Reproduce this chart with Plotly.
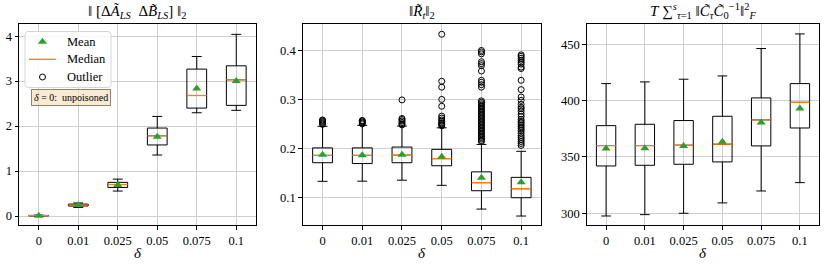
import math
import plotly.graph_objects as go

# ---------------- data ----------------
delta_labels = ["0", "0.01", "0.025", "0.05", "0.075", "0.1"]
positions = [1, 2, 3, 4, 5, 6]

# Panel 1: || [dA_LS dB_LS] ||_2
p1_q1 = [0.003, 0.222, 0.635, 1.580, 2.400, 2.460]
p1_med = [0.008, 0.245, 0.700, 1.785, 2.680, 3.030]
p1_q3 = [0.013, 0.265, 0.748, 1.956, 3.267, 3.340]
p1_lo = [0.000, 0.190, 0.555, 1.356, 2.296, 2.350]
p1_hi = [0.020, 0.290, 0.820, 2.215, 3.548, 4.040]
p1_mean = [0.008, 0.245, 0.690, 1.760, 2.837, 3.000]

# Panel 2: ||R_t||_2
p2_q1 = [0.1707, 0.1690, 0.1707, 0.1645, 0.1135, 0.0992]
p2_med = [0.1857, 0.1857, 0.1860, 0.1790, 0.1300, 0.1176]
p2_q3 = [0.2010, 0.2010, 0.2027, 0.1980, 0.1520, 0.1408]
p2_lo = [0.1327, 0.1330, 0.1350, 0.1245, 0.0760, 0.0618]
p2_hi = [0.2450, 0.2470, 0.2455, 0.2420, 0.2080, 0.1940]
p2_mean = [0.1870, 0.1860, 0.1870, 0.1830, 0.1400, 0.1306]
p2_out_0 = [0.249, 0.251, 0.253, 0.255, 0.257, 0.258]
p2_out_1 = [0.250, 0.252, 0.254, 0.256, 0.257]
p2_out_2 = [0.248, 0.250, 0.253, 0.256, 0.259, 0.261, 0.299]
p2_out_3 = [0.246, 0.248, 0.250, 0.252, 0.255, 0.258, 0.262, 0.266,
            0.286, 0.300, 0.325, 0.337, 0.433]
p2_out_4 = [0.400, 0.397, 0.393, 0.377, 0.373, 0.369, 0.358, 0.339, 0.335,
            0.330, 0.325, 0.297, 0.294, 0.291, 0.288, 0.285, 0.282, 0.279,
            0.276, 0.273, 0.270, 0.267, 0.264, 0.261, 0.258, 0.255, 0.252,
            0.249, 0.246, 0.243, 0.240, 0.237, 0.234, 0.231, 0.228, 0.225,
            0.222, 0.219, 0.216, 0.214]
p2_out_5 = [0.391, 0.388, 0.384, 0.380, 0.376, 0.372, 0.366, 0.363, 0.339,
            0.320, 0.305, 0.298, 0.290, 0.284, 0.281, 0.276, 0.270, 0.265,
            0.259, 0.255, 0.252, 0.248, 0.244, 0.240, 0.236, 0.231, 0.226,
            0.222, 0.218, 0.214, 0.210, 0.206]
p2_outliers = [p2_out_0, p2_out_1, p2_out_2, p2_out_3, p2_out_4, p2_out_5]

# Panel 3: T sum ||C_tau C_0^-1||_F^2
p3_q1 = [342.0, 342.6, 343.5, 345.6, 359.8, 375.7]
p3_med = [360.1, 360.1, 360.4, 361.3, 382.9, 398.5]
p3_q3 = [377.8, 379.0, 382.3, 386.1, 402.4, 415.1]
p3_lo = [297.6, 298.8, 300.0, 309.2, 319.8, 327.2]
p3_hi = [415.1, 416.6, 419.0, 421.9, 446.2, 459.2]
p3_mean = [357.4, 357.7, 359.8, 363.6, 380.5, 392.9]

legend_names = ["Mean", "Median", "Outlier"]

# ---------------- style ----------------
FONT = "Liberation Serif, Times New Roman, serif"
ORANGE = "#ff7f0e"
GREEN = "#2ca02c"
GRID = "#cfcfcf"
BOX_W = 0.5
MEAN_MARKER = dict(symbol="triangle-up", color=GREEN, size=8)
OUT_MARKER = dict(symbol="circle-open", color="black", size=6,
                  line=dict(width=1, color="black"))

W, H = 830, 267
y_dom = [1 - 225 / H, 1 - 24 / H]
x_doms = [[19 / W, 256 / W], [302.7 / W, 541 / W], [586.7 / W, 819.3 / W]]

fig = go.Figure()


def add_panel(k, q1, med, q3, lo, hi, mean, outliers):
    xa = "x" if k == 1 else f"x{k}"
    ya = "y" if k == 1 else f"y{k}"
    fig.add_trace(go.Box(
        x=positions, q1=q1, median=med, q3=q3, lowerfence=lo, upperfence=hi,
        width=BOX_W, whiskerwidth=0.5, boxpoints=False,
        line=dict(color="black", width=1), fillcolor="rgba(255,255,255,0)",
        xaxis=xa, yaxis=ya, showlegend=False, hoverinfo="skip"))
    mx, my = [], []
    for p, m in zip(positions, med):
        mx += [p - BOX_W / 2, p + BOX_W / 2, None]
        my += [m, m, None]
    fig.add_trace(go.Scatter(
        x=mx, y=my, mode="lines", line=dict(color=ORANGE, width=1.3),
        showlegend=False, xaxis=xa, yaxis=ya, hoverinfo="skip"))
    if outliers is not None:
        ox, oy = [], []
        for p, vals in zip(positions, outliers):
            ox += [p] * len(vals)
            oy += vals
        fig.add_trace(go.Scatter(
            x=ox, y=oy, mode="markers", marker=OUT_MARKER,
            showlegend=False, xaxis=xa, yaxis=ya, hoverinfo="skip"))
    fig.add_trace(go.Scatter(
        x=positions, y=mean, mode="markers", marker=MEAN_MARKER,
        showlegend=False, xaxis=xa, yaxis=ya, hoverinfo="skip"))


add_panel(1, p1_q1, p1_med, p1_q3, p1_lo, p1_hi, p1_mean, None)
add_panel(2, p2_q1, p2_med, p2_q3, p2_lo, p2_hi, p2_mean, p2_outliers)
add_panel(3, p3_q1, p3_med, p3_q3, p3_lo, p3_hi, p3_mean, None)

# ---------------- custom legend on a pixel-space overlay ----------------
LX0, LY0, LX1, LY1, LR = 25, 31.5, 111, 87.5, 3
rows_y = [41.7, 59.3, 77.0]
sym_x, line_x0, line_x1, text_x = 42.5, 29, 56, 65


def rounded_rect(x0, y0, x1, y1, r, n=6):
    pts = []
    corners = [(x1 - r, y0 + r, -90), (x1 - r, y1 - r, 0),
               (x0 + r, y1 - r, 90), (x0 + r, y0 + r, 180)]
    for cx, cy, a0 in corners:
        for j in range(n + 1):
            a = math.radians(a0 + 90 * j / n)
            pts.append((cx + r * math.cos(a), cy + r * math.sin(a)))
    pts.append(pts[0])
    return [p[0] for p in pts], [p[1] for p in pts]


bx, by = rounded_rect(LX0, LY0, LX1, LY1, LR)
fig.add_trace(go.Scatter(x=bx, y=by, mode="lines", fill="toself",
                         fillcolor="rgba(255,255,255,0.85)",
                         line=dict(color="#d5d5d5", width=1),
                         xaxis="x4", yaxis="y4", showlegend=False, hoverinfo="skip"))
fig.add_trace(go.Scatter(x=[sym_x], y=[rows_y[0]], mode="markers", marker=MEAN_MARKER,
                         xaxis="x4", yaxis="y4", showlegend=False, hoverinfo="skip"))
fig.add_trace(go.Scatter(x=[line_x0, line_x1], y=[rows_y[1], rows_y[1]], mode="lines",
                         line=dict(color=ORANGE, width=1.3),
                         xaxis="x4", yaxis="y4", showlegend=False, hoverinfo="skip"))
fig.add_trace(go.Scatter(x=[sym_x], y=[rows_y[2]], mode="markers", marker=OUT_MARKER,
                         xaxis="x4", yaxis="y4", showlegend=False, hoverinfo="skip"))
for name, ry in zip(legend_names, rows_y):
    fig.add_annotation(xref="x4", yref="y4", x=text_x, y=ry, text=name,
                       xanchor="left", yanchor="middle", showarrow=False,
                       font=dict(family=FONT, size=12.5))

axis_common = dict(showline=True, mirror=True, linecolor="black", linewidth=1,
                   ticks="outside", ticklen=3.5, tickcolor="black", tickwidth=1,
                   showgrid=True, gridcolor=GRID, gridwidth=1, zeroline=False,
                   automargin=False,
                   tickfont=dict(family=FONT, size=12.5, color="black"))

y_ranges = [[-0.2, 4.27], [0.0435, 0.454], [289.6, 468.0]]
y_ticks = [[0, 1, 2, 3, 4], [0.1, 0.2, 0.3, 0.4], [300, 350, 400, 450]]
y_ticktext = [["0", "1", "2", "3", "4"], ["0.1", "0.2", "0.3", "0.4"],
              ["300", "350", "400", "450"]]

layout = dict(template="none", width=W, height=H,
              margin=dict(l=0, r=0, t=0, b=0, pad=0),
              paper_bgcolor="white", plot_bgcolor="rgba(0,0,0,0)",
              showlegend=False,
              font=dict(family=FONT, size=12, color="black"))
for i in range(3):
    sx = "" if i == 0 else str(i + 1)
    layout[f"xaxis{sx}"] = dict(
        domain=x_doms[i], range=[0.5, 6.5], tickvals=positions,
        ticktext=delta_labels, anchor=f"y{sx}", **axis_common)
    layout[f"yaxis{sx}"] = dict(
        domain=y_dom, range=y_ranges[i], tickvals=y_ticks[i],
        ticktext=y_ticktext[i], anchor=f"x{sx}", **axis_common)
layout["xaxis4"] = dict(domain=[0, 1], range=[0, W], visible=False,
                        showgrid=False, zeroline=False, anchor="y4", fixedrange=True)
layout["yaxis4"] = dict(domain=[0, 1], range=[H, 0], visible=False,
                        showgrid=False, zeroline=False, anchor="x4", fixedrange=True)
fig.update_layout(**layout)

titles = [
    "‖ [Δ<i>Ã</i><sub><i>LS</i></sub>  Δ<i>B̃</i><sub><i>LS</i></sub>] ‖<sub>2</sub>",
    "‖<i>R̃</i><sub><i>t</i></sub>‖<sub>2</sub>",
    "<i>T</i> ∑<sup><i>s</i></sup><sub><i>τ</i>=1</sub> ‖<i>C̃</i><sub><i>τ</i></sub>"
    "<i>C̃</i><sub>0</sub><sup>−1</sup>‖<sup>2</sup><sub><i>F</i></sub>",
]
for i in range(3):
    cx = (x_doms[i][0] + x_doms[i][1]) / 2
    fig.add_annotation(xref="paper", yref="paper", x=cx, y=y_dom[1] + 1 / H,
                       xanchor="center", yanchor="bottom", showarrow=False,
                       text=titles[i], font=dict(family=FONT, size=15))
    fig.add_annotation(xref="paper", yref="paper", x=cx, y=1 - 253 / H,
                       xanchor="center", yanchor="middle", showarrow=False,
                       text="<i>δ</i>", font=dict(family=FONT, size=15))

fig.add_annotation(xref="paper", yref="paper", x=70.5 / W, y=1 - 97 / H,
                   xanchor="center", yanchor="middle", showarrow=False,
                   text="<i>δ</i> = 0:  unpoisoned",
                   font=dict(family=FONT, size=10),
                   bgcolor="rgba(245,222,179,0.6)",
                   bordercolor="rgba(120,100,80,0.8)", borderwidth=1, borderpad=2)

fig.write_html(
    "out.html",
    config={"displayModeBar": False},
    post_script="document.body.style.margin='0';document.body.style.padding='0';"
                "document.body.style.overflow='hidden';",
)
